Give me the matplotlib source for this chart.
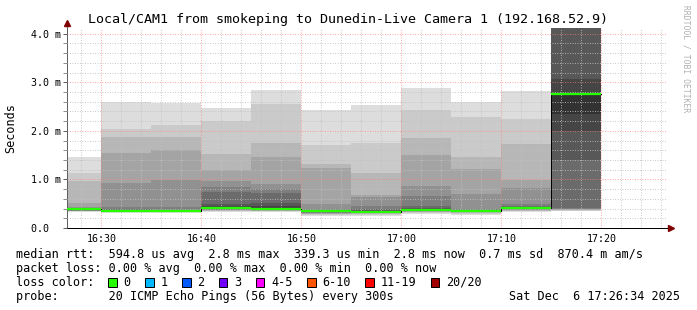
import numpy as np
import matplotlib
matplotlib.use('Agg')
import matplotlib.pyplot as plt
from matplotlib.patches import Rectangle
from matplotlib.lines import Line2D

W, H = 697, 310
MONO = 'DejaVu Sans Mono'

# 各バーの開始時刻（16:00 からの分）、5分ごと
starts = [25, 30, 35, 40, 45, 50, 55, 60, 65, 70, 75]
step_min = 5

# 各5分間の20回のpingの値（ms、昇順）。11番目が中央値
pings = [
    [0.33, 0.34, 0.345, 0.35, 0.355, 0.36, 0.365, 0.37, 0.375, 0.38,
     0.385, 0.39, 0.40, 0.41, 0.42, 0.44, 0.52, 0.97, 1.13, 1.46],
    [0.31, 0.32, 0.325, 0.33, 0.335, 0.34, 0.342, 0.345, 0.348, 0.35,
     0.356, 0.37, 0.38, 0.40, 0.43, 0.93, 1.55, 1.88, 2.04, 2.60],
    [0.31, 0.32, 0.325, 0.33, 0.333, 0.336, 0.338, 0.34, 0.341, 0.342,
     0.344, 0.355, 0.36, 0.37, 0.44, 0.99, 1.61, 1.88, 2.12, 2.58],
    [0.33, 0.35, 0.36, 0.37, 0.375, 0.38, 0.385, 0.39, 0.395, 0.40,
     0.41, 0.46, 0.49, 0.75, 0.85, 0.97, 1.20, 1.53, 2.20, 2.48],
    [0.33, 0.34, 0.35, 0.36, 0.365, 0.37, 0.375, 0.38, 0.385, 0.39,
     0.40, 0.45, 0.51, 0.73, 0.80, 0.90, 1.47, 1.76, 2.56, 2.85],
    [0.24, 0.26, 0.28, 0.29, 0.30, 0.31, 0.32, 0.325, 0.33, 0.335,
     0.34, 0.35, 0.36, 0.37, 0.39, 0.49, 1.23, 1.32, 1.70, 2.43],
    [0.25, 0.27, 0.29, 0.30, 0.31, 0.315, 0.32, 0.325, 0.33, 0.335,
     0.339, 0.35, 0.37, 0.40, 0.45, 0.63, 0.68, 1.14, 1.74, 2.54],
    [0.29, 0.31, 0.32, 0.33, 0.34, 0.345, 0.35, 0.355, 0.36, 0.365,
     0.37, 0.38, 0.41, 0.45, 0.66, 0.87, 1.50, 1.86, 2.43, 2.89],
    [0.27, 0.29, 0.31, 0.32, 0.33, 0.335, 0.34, 0.345, 0.35, 0.353,
     0.356, 0.36, 0.37, 0.38, 0.40, 0.71, 1.21, 1.47, 2.29, 2.60],
    [0.32, 0.34, 0.36, 0.37, 0.38, 0.385, 0.39, 0.40, 0.405, 0.41,
     0.418, 0.43, 0.44, 0.45, 0.49, 0.82, 0.99, 1.73, 2.25, 2.82],
    [0.34, 0.36, 0.37, 0.38, 0.39, 0.40, 0.41, 1.40, 2.00, 2.35,
     2.76, 3.07, 4.30, 4.60, 5.00, 5.50, 6.00, 7.00, 8.00, 9.00],
]

# 表示範囲（16:26:34 - 17:26:34）と縦軸上限
t_start = 26 + 34 / 60
t_end = 86 + 34 / 60
y_top = 4.117

xticks = [30, 40, 50, 60, 70, 80]
xlabels = ['16:30', '16:40', '16:50', '17:00', '17:10', '17:20']
yticks = [0, 1, 2, 3, 4]
ylabels = ['0.0  ', '1.0 m', '2.0 m', '3.0 m', '4.0 m']

title = 'Local/CAM1 from smokeping to Dunedin-Live Camera 1 (192.168.52.9)'
legend_lines = [
    'median rtt:  594.8 us avg  2.8 ms max  339.3 us min  2.8 ms now  0.7 ms sd  870.4 m am/s',
    'packet loss: 0.00 % avg  0.00 % max  0.00 % min  0.00 % now',
    'loss color:',
    'probe:       20 ICMP Echo Pings (56 Bytes) every 300s',
]
loss_labels = ['0', '1', '2', '3', '4-5', '6-10', '11-19', '20/20']
loss_colors = ['#26ff00', '#00b8ff', '#0059ff', '#7000ff', '#ff00ff',
               '#ff5500', '#ff0000', '#a10000']
date_text = 'Sat Dec  6 17:26:34 2025'


def fx(x):
    return x / W


def fy(y):
    return 1 - y / H


fig = plt.figure(figsize=(W / 100, H / 100), dpi=100)
ax = fig.add_axes([fx(67), fy(228), 600 / W, 200 / H])

P = np.array(pings)
half = P.shape[1] // 2
# smoke: 外側から内側へ、だんだん濃くなる
for k in range(1, half + 1):
    lo = P[:, k - 1]
    hi = P[:, P.shape[1] - k]
    c = int(190 / half * (half - k)) + 50
    ax.bar(starts, hi - lo, bottom=lo, width=step_min, align='edge',
           color='#%02x%02x%02x' % (c, c, c), linewidth=0, zorder=1)

med = P[:, half]
xs = list(starts) + [starts[-1] + step_min]
ax.plot(xs, list(med) + [med[-1]], drawstyle='steps-post', color='#000000',
        lw=0.72, zorder=3)
ax.hlines(med, starts, np.array(starts) + step_min, color=loss_colors[0],
          lw=1.6, zorder=4)

ax.set_xlim(t_start, t_end)
ax.set_ylim(0, y_top)
ax.set_xticks(xticks)
ax.set_xticklabels(xlabels, fontfamily=MONO, fontsize=7.2)
ax.set_xticks(np.arange(28, t_end, 2), minor=True)
ax.set_yticks(yticks)
ax.set_yticklabels(ylabels, fontfamily=MONO, fontsize=7.2)
ax.set_yticks(np.arange(0, y_top, 0.2), minor=True)

ax.set_axisbelow(False)
ax.grid(which='minor', color='#c0c0c0', lw=0.72, ls=(0, (1, 1.5)), alpha=0.8)
ax.grid(which='major', color='#ff8080', lw=0.72, ls=(0, (1, 1.5)), alpha=0.65)

ax.tick_params(axis='x', which='both', length=0, pad=4)
ax.tick_params(axis='y', which='major', direction='out', length=3, width=0.72,
               color='#606060', pad=1.5)
ax.tick_params(axis='y', which='minor', direction='out', length=3, width=0.72,
               color='#909090')

for s in ['top', 'right']:
    ax.spines[s].set_visible(False)
ax.spines['left'].set_color('#606060')
ax.spines['left'].set_linewidth(0.72)
ax.spines['bottom'].set_color('#000000')
ax.spines['bottom'].set_linewidth(0.72)

# 軸の矢印
fig.add_artist(Line2D([fx(67), fx(67)], [fy(28), fy(24)], color='#606060',
                      lw=0.72, transform=fig.transFigure))
fig.add_artist(Line2D([fx(67)], [fy(23)], marker='^', markersize=4,
                      color='#800000', lw=0, transform=fig.transFigure))
fig.add_artist(Line2D([fx(667), fx(670)], [fy(228), fy(228)], color='#000000',
                      lw=0.72, transform=fig.transFigure))
fig.add_artist(Line2D([fx(671)], [fy(228)], marker='>', markersize=4,
                      color='#800000', lw=0, transform=fig.transFigure))

fig.text(0.5, fy(19), title, ha='center', va='center', fontfamily=MONO,
         fontsize=9.6)
fig.text(fx(11), fy(128), 'Seconds', rotation=90, ha='center', va='center',
         fontfamily=MONO, fontsize=8.5)
fig.text(fx(686), fy(5), 'RRDTOOL / TOBI OETIKER', rotation=270, ha='center',
         va='top', fontfamily=MONO, fontsize=5.8, color='#b0b0b0')

rows_y = [254.3, 268.3, 282.3, 296.5]
for line, ry in zip(legend_lines, rows_y):
    fig.text(fx(16), fy(ry), line, ha='left', va='center', fontfamily=MONO,
             fontsize=8.5)
fig.text(fx(680), fy(rows_y[3]), date_text, ha='right', va='center',
         fontfamily=MONO, fontsize=8.5)

cw = 7.1
bx = 108.3
for lab, col in zip(loss_labels, loss_colors):
    fig.add_artist(Rectangle((fx(bx), fy(286.5)), 8.4 / W, 8.4 / H,
                             facecolor=col, edgecolor='#000000', lw=0.72,
                             transform=fig.transFigure))
    fig.text(fx(bx + 15), fy(rows_y[2]), lab, ha='left', va='center',
             fontfamily=MONO, fontsize=8.5)
    bx += (len(lab) + 4.2) * cw

fig.savefig('out.png', dpi=100, facecolor='white')
